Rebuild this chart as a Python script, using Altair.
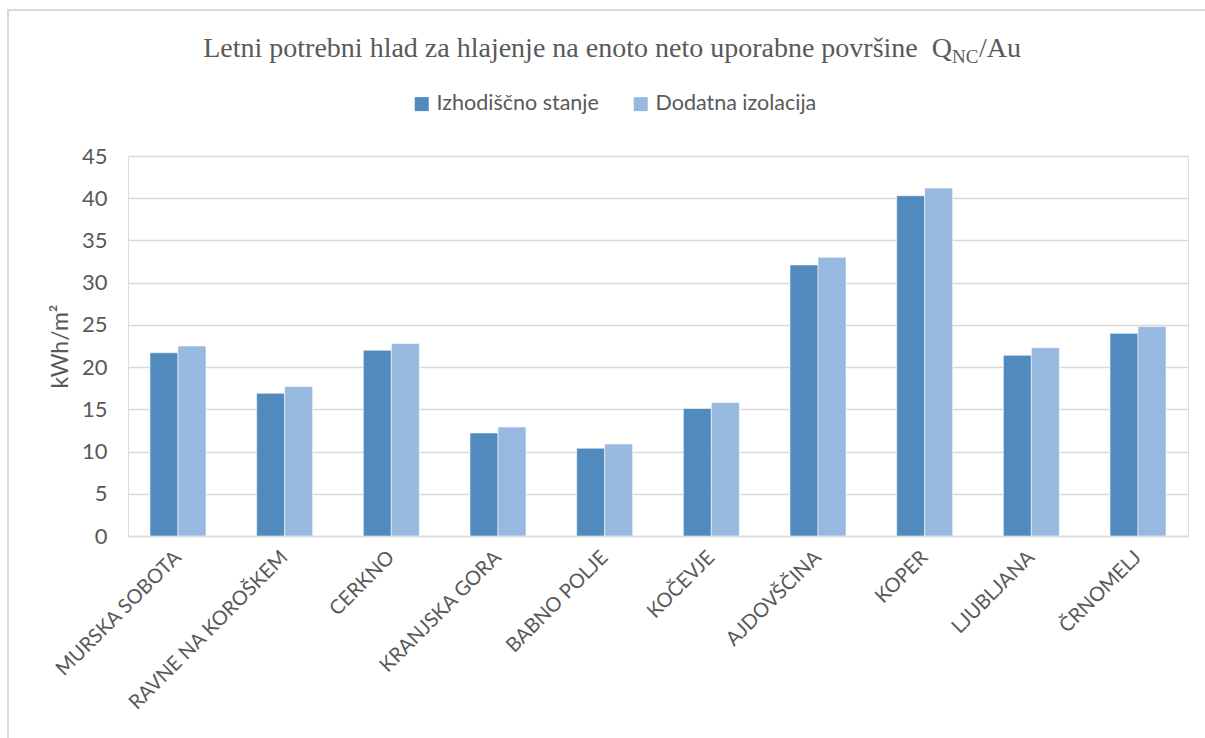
import altair as alt
import pandas as pd

# Cooling demand per unit of net usable floor area, kWh/m2
cities = [
    "MURSKA SOBOTA", "RAVNE NA KOROŠKEM", "CERKNO", "KRANJSKA GORA",
    "BABNO POLJE", "KOČEVJE", "AJDOVŠČINA", "KOPER", "LJUBLJANA", "ČRNOMELJ",
]
series = ["Izhodiščno stanje", "Dodatna izolacija"]
baseline_values = [21.7, 16.9, 22.0, 12.2, 10.4, 15.1, 32.1, 40.3, 21.4, 24.0]
insulated_values = [22.5, 17.7, 22.8, 12.9, 10.9, 15.8, 33.0, 41.2, 22.3, 24.8]
y_ticks = [0, 5, 10, 15, 20, 25, 30, 35, 40, 45]

rows = []
for city, a, b in zip(cities, baseline_values, insulated_values):
    rows.append({"mesto": city, "serija": series[0], "vrednost": a})
    rows.append({"mesto": city, "serija": series[1], "vrednost": b})
df = pd.DataFrame(rows)

W, H = 1060, 380
SANS = "Lato"
SERIF = "Liberation Serif"
GREY = "#595959"

bars = alt.Chart(df).mark_bar(
    stroke="white", strokeWidth=0.8, strokeOpacity=0.7
).encode(
    x=alt.X(
        "mesto:N", sort=cities, title=None,
        scale=alt.Scale(paddingInner=0.475, paddingOuter=0.206),
        axis=alt.Axis(
            labelAngle=-45, labelAlign="right", labelBaseline="middle",
            labelFont=SANS, labelFontSize=20, labelColor=GREY,
            labelPadding=18, labelOffset=0, ticks=False, labelOverlap=False,
            labelLimit=0, domainColor="#d9d9d9", domainWidth=1.5, grid=False,
        ),
    ),
    xOffset=alt.XOffset("serija:N", sort=series),
    y=alt.Y(
        "vrednost:Q",
        scale=alt.Scale(domain=[0, 45], nice=False),
        axis=alt.Axis(
            values=y_ticks, title="kWh/m²", ticks=False, domain=False,
            labelFont=SANS, labelFontSize=22, labelColor=GREY,
            labelPadding=21, gridColor="#d9d9d9", gridWidth=1.5,
            titleFont=SANS, titleFontSize=23, titleFontWeight="normal",
            titleColor=GREY, titleX=-68, titleY=190, titleAngle=-90,
            titleBaseline="middle", titleAlign="center",
        ),
    ),
    color=alt.Color(
        "serija:N", sort=series, title=None,
        scale=alt.Scale(domain=series, range=["#518abc", "#98b9df"]),
        legend=alt.Legend(
            orient="none", direction="horizontal", legendX=283, legendY=-63,
            symbolType="square", symbolSize=196, symbolStrokeWidth=0,
            labelFont=SANS, labelFontSize=21.5, labelColor=GREY, labelLimit=0,
            columnPadding=31, labelOffset=4,
        ),
    ),
)

# Title: main text, subscript "NC" and trailing "/Au"
title_df = pd.DataFrame({"t": ["x"]})
title_main = alt.Chart(title_df).mark_text(
    text="Letni potrebni hlad za hlajenje na enoto neto uporabne površine\u00a0\u00a0Q",
    font=SERIF, fontSize=28, color=GREY, align="right", baseline="alphabetic",
).encode(x=alt.value(824), y=alt.value(-99))
title_sub = alt.Chart(title_df).mark_text(
    text="NC", font=SERIF, fontSize=19, color=GREY,
    align="left", baseline="alphabetic",
).encode(x=alt.value(824), y=alt.value(-93))
title_tail = alt.Chart(title_df).mark_text(
    text="/Au", font=SERIF, fontSize=28, color=GREY,
    align="left", baseline="alphabetic",
).encode(x=alt.value(851), y=alt.value(-99))

# Thin frame around the chart area
frame = alt.Chart(title_df).mark_rect(
    fill=None, stroke="#d9d9d9", strokeWidth=2
).encode(
    x=alt.value(-120), x2=alt.value(1100), y=alt.value(-146), y2=alt.value(600)
)

chart = alt.layer(frame, bars, title_main, title_sub, title_tail).properties(
    width=W, height=H,
    autosize=alt.AutoSizeParams(type="none"),
    padding={"left": 128, "top": 156, "right": 17, "bottom": 202},
).configure_view(stroke=None).configure(background="white")

chart.save("out.html", embed_options={"renderer": "svg", "actions": False})
